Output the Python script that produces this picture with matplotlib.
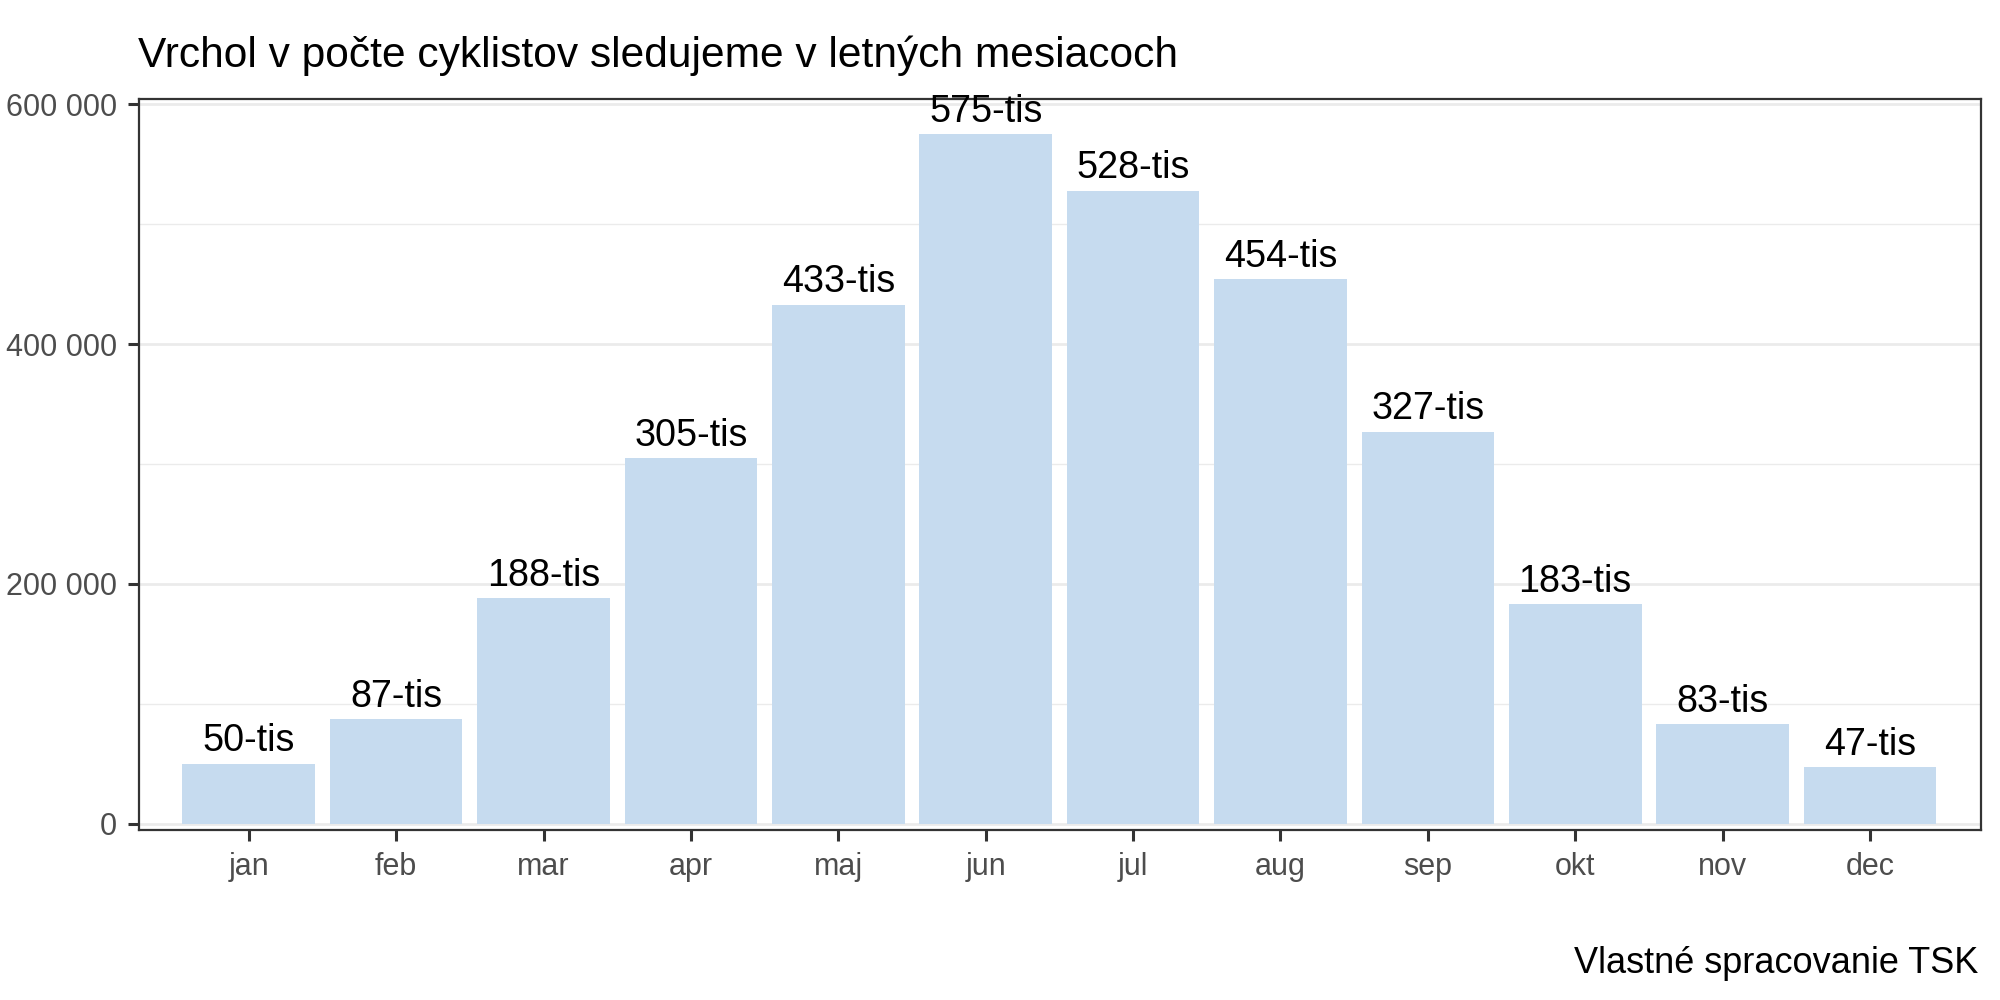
import numpy as np
import matplotlib.pyplot as plt

plt.rcParams['font.family'] = ['Liberation Sans', 'DejaVu Sans']

# data (counts in thousands)
months = ['jan', 'feb', 'mar', 'apr', 'maj', 'jun', 'jul', 'aug', 'sep', 'okt', 'nov', 'dec']
values_tis = [50, 87, 188, 305, 433, 575, 528, 454, 327, 183, 83, 47]
y_ticks = [0, 200000, 400000, 600000]
y_tick_labels = ['0', '200 000', '400 000', '600 000']
y_minor = [100000, 300000, 500000]

title = 'Vrchol v počte cyklistov sledujeme v letných mesiacoch'
caption = 'Vlastné spracovanie TSK'

values = np.array(values_tis) * 1000
labels = [f'{v}-tis' for v in values_tis]
x = np.arange(len(months))

fig = plt.figure(figsize=(10, 5), dpi=200)
ax = fig.add_axes([0.0695, 0.1705, 0.92075, 0.7308])

ax.bar(x, values, width=0.9, color='#C6DBEF', zorder=2)
for xi, v, lab in zip(x, values, labels):
    ax.annotate(lab, (xi, v), xytext=(0, 4.4), textcoords='offset points',
                ha='center', va='baseline', fontsize=13.6, color='black', zorder=3)

ax.set_xlim(-0.745, 11.75)
ax.set_ylim(-5000, 604700)

ax.set_xticks(x, months)
ax.set_yticks(y_ticks, y_tick_labels)
ax.set_yticks(y_minor, minor=True)

ax.set_axisbelow(True)
ax.grid(which='major', axis='y', color='#EBEBEB', lw=1.0, zorder=0)
ax.grid(which='minor', axis='y', color='#EBEBEB', lw=0.5, zorder=0)

for s in ax.spines.values():
    s.set_color('#333333')
    s.set_linewidth(0.8)

ax.tick_params(which='major', length=4, width=1.1, color='#333333',
               labelcolor='#4D4D4D', labelsize=11, pad=4)
ax.tick_params(which='minor', length=0)

fig.text(0.069, 0.933, title, fontsize=15.3, ha='left', va='baseline')
fig.text(0.989, 0.027, caption, fontsize=13, ha='right', va='baseline')

fig.savefig('out.png', dpi=200)
